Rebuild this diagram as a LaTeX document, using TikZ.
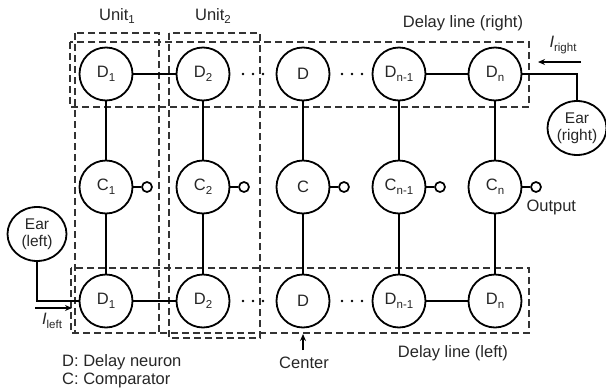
\documentclass[tikz,border=0pt]{standalone}
\usepackage{fontspec}
\setmainfont{Liberation Sans}
\usetikzlibrary{arrows.meta,shapes.geometric}
\newcommand\lsub[1]{\raisebox{-0.45ex}{\fontsize{11.5}{12}\selectfont #1}}
\begin{document}
\begin{tikzpicture}[x=1pt,y=-1pt, font=\fontsize{16.5}{19}\selectfont,
 neuron/.style={circle, draw, line width=1.8pt, minimum size=53pt, inner sep=0pt, text=black!85},
 ear/.style={ellipse, draw, line width=1.8pt, minimum width=59pt, minimum height=54pt, inner sep=0pt, align=center, font=\fontsize{15.5}{17}\selectfont, text=black!85},
 conn/.style={line width=1.6pt},
 box/.style={draw=black!80, line width=1.7pt, dash pattern=on 7pt off 4pt},
 outc/.style={circle, draw, line width=1.7pt, minimum size=10pt, inner sep=0pt},
 arr/.style={line width=1.6pt, -{Stealth[length=7pt,width=6pt]}},
 lbl/.style={text=black!85},
 dot/.style={fill=black, radius=1.4pt}
]
\useasboundingbox (0,0) rectangle (606,389);

% dashed boxes
\draw[box] (70,42) rectangle (529,107);
\draw[box] (71,268) rectangle (529,333);
\draw[box] (75,33) rectangle (159,333);
\draw[box] (169,33) rectangle (260,338);

% neurons
\foreach \n/\x/\t in {1/106/D\lsub{1}, 2/203/D\lsub{2}, 3/303/D, 4/399/D\lsub{n-1}, 5/495/D\lsub{n}} {
  \node[neuron] (T\n) at (\x,74) {\t};
  \node[neuron] (B\n) at (\x,301) {\t};
}
\foreach \n/\x/\t in {1/106/C\lsub{1}, 2/203/C\lsub{2}, 3/303/C, 4/399/C\lsub{n-1}, 5/495/C\lsub{n}} {
  \node[neuron] (C\n) at (\x,187) {\t};
  \node[outc] (O\n) at (\x+41,187) {};
  \draw[conn] (C\n) -- (O\n);
  \draw[conn] (T\n) -- (C\n);
  \draw[conn] (C\n) -- (B\n);
}
\draw[conn] (T1) -- (T2);
\draw[conn] (T4) -- (T5);
\draw[conn] (B1) -- (B2);
\draw[conn] (B4) -- (B5);

% dots
\foreach \x in {243,253,263,342,352,362} {
  \fill[dot] (\x,74) circle;
  \fill[dot] (\x,301) circle;
}

% ears
\node[ear] (EL) at (37,234) {Ear\\(left)};
\node[ear] (ER) at (577,128) {Ear\\(right)};
\draw[conn] (EL.south) |- (B1.west);
\draw[conn] (ER.north) |- (T5.east);

\coordinate (il1) at (35,308);
\coordinate (il2) at (72,308);
\draw[arr] (il1) -- (il2);
\node[lbl] (ILl) at (52,321) {\textit{I}\lsub{left}};

\coordinate (ir1) at (581,62);
\coordinate (ir2) at (538,62);
\draw[arr] (ir1) -- (ir2);
\node[lbl] (IRl) at (563,45) {\textit{I}\lsub{right}};

% labels
\node[lbl] (U1) at (117,16) {Unit\lsub{1}};
\node[lbl] (U2) at (213,16) {Unit\lsub{2}};
\node[lbl] (DLR) at (463,23) {Delay line (right)};
\node[lbl] (DLL) at (453,353) {Delay line (left)};
\node[lbl] (CEN) at (304,363) {Center};
\coordinate (cen1) at (303,350);
\coordinate (cen2) at (303,334);
\draw[arr] (cen1) -- (cen2);
\node[lbl, anchor=west, inner sep=0pt] (LD) at (62,362) {D: Delay neuron};
\node[lbl, anchor=west, inner sep=0pt] (LC) at (62,380) {C: Comparator};
\node[lbl, anchor=west] (OUT) at (523,207) {Output};
\end{tikzpicture}
\end{document}
